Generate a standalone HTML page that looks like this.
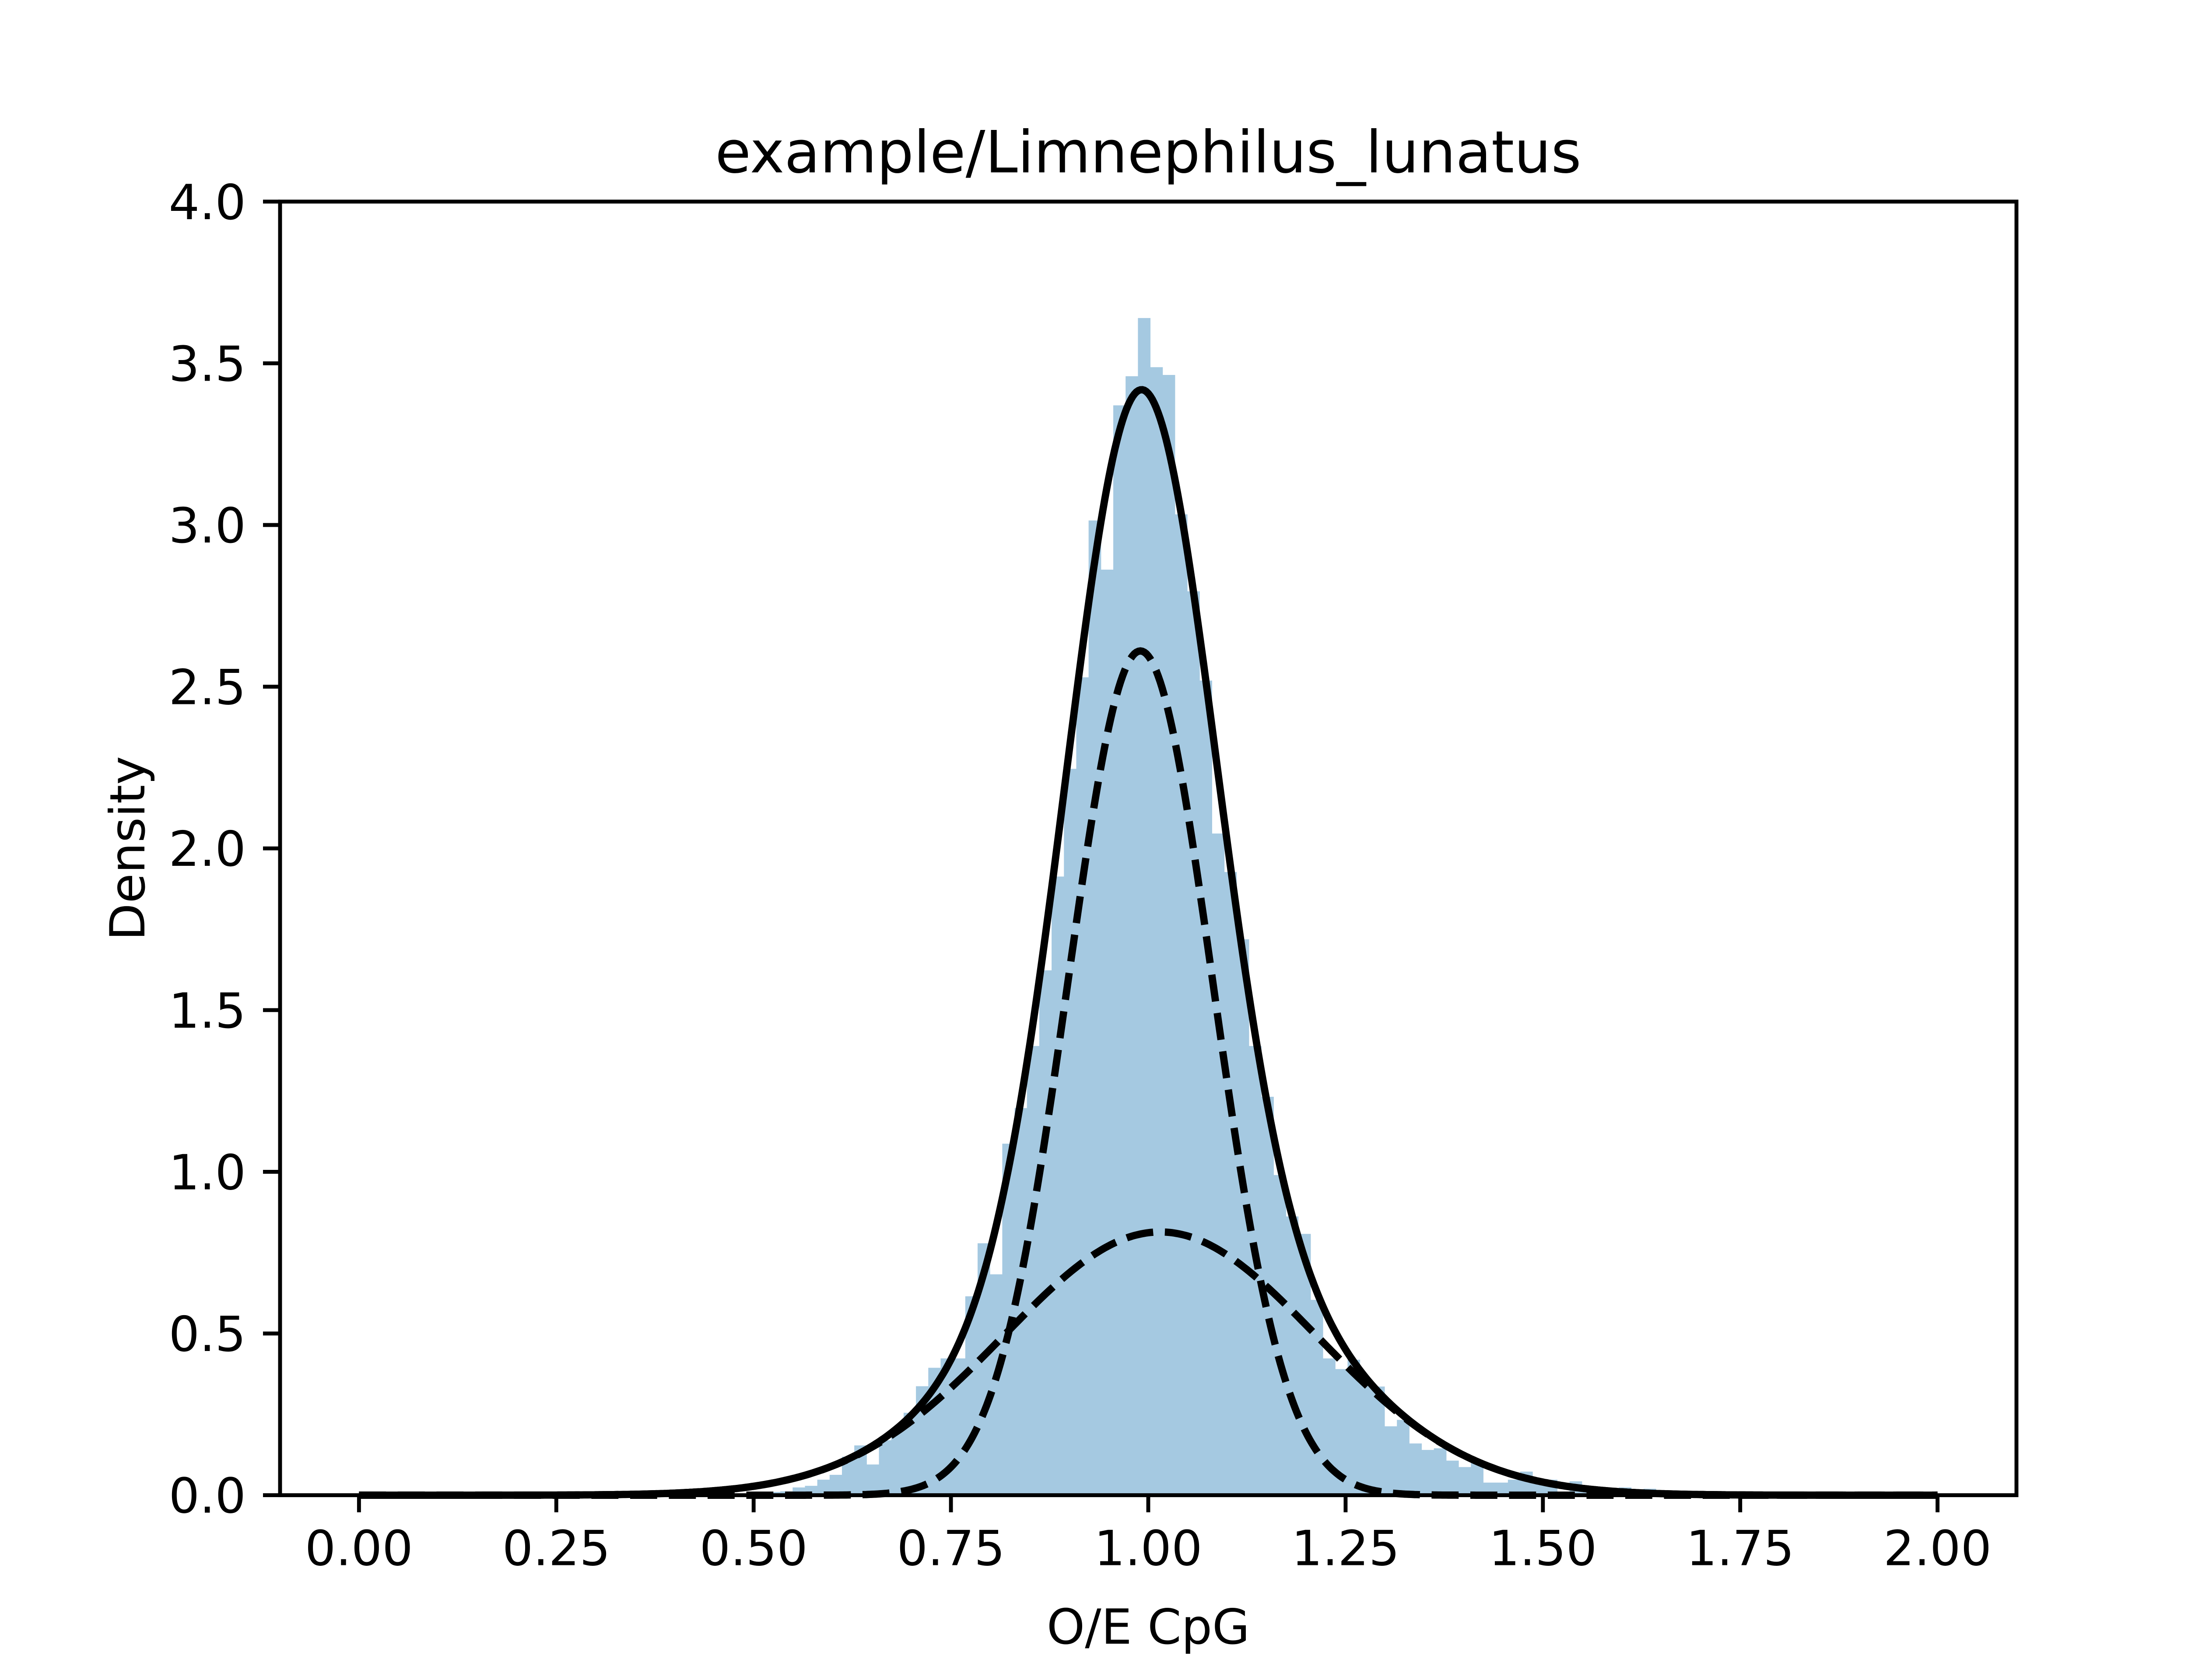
<!DOCTYPE html>
<html><head><meta charset="utf-8"><style>
html,body{margin:0;padding:0;background:#fff;}
svg{display:block;}
text{font-family:"DejaVu Sans","Liberation Sans",sans-serif;fill:#000;}
</style></head><body>
<svg id="chart" width="5120" height="3840" viewBox="0 0 5120 3840" xmlns="http://www.w3.org/2000/svg">
<rect x="0" y="0" width="5120" height="3840" fill="#ffffff"/>
<g id="bars"></g>
<g id="curves"></g>
<g id="axes"></g>
<text x="2624" y="394" font-size="133" text-anchor="middle">example/Limnephilus_lunatus</text>
<text x="2624" y="3757" font-size="111" text-anchor="middle">O/E CpG</text>
<text x="0" y="0" font-size="111" text-anchor="middle" transform="translate(330,1939) rotate(-90)">Density</text>
</svg>
<script>
const binStart = 0.4869;
const binWidth = 0.015625;
const densities = [0.005,0.008,0.010,0.012,0.024,0.029,0.048,0.063,0.119,0.154,0.095,0.170,0.200,0.255,0.337,0.394,0.423,0.423,0.615,0.779,0.683,1.087,1.197,1.389,1.623,1.913,2.246,2.529,3.014,2.862,3.370,3.460,3.640,3.488,3.464,3.033,2.795,2.519,2.046,1.927,1.719,1.389,1.232,0.990,0.862,0.808,0.604,0.423,0.390,0.419,0.350,0.336,0.213,0.233,0.160,0.140,0.145,0.107,0.087,0.107,0.039,0.039,0.048,0.073,0.048,0.048,0.011,0.043,0.011,0.010,0.008,0.024,0.011,0.020];
const compMeans = [0.99, 1.015];
const compSigmas = [0.092, 0.198];
const compWeights = [0.602, 0.404];
const xTicks = [0,0.25,0.5,0.75,1.0,1.25,1.5,1.75,2.0];
const xTickLabels = ["0.00","0.25","0.50","0.75","1.00","1.25","1.50","1.75","2.00"];
const yTicks = [0,0.5,1,1.5,2,2.5,3,3.5,4];
const yTickLabels = ["0.0","0.5","1.0","1.5","2.0","2.5","3.0","3.5","4.0"];

const NS='http://www.w3.org/2000/svg';
const L=640,R=4608,T=460.8,B=3417.6;
const xmin=-0.1,xmax=2.1,ymin=0,ymax=4;
function sx(v){return L+(v-xmin)/(xmax-xmin)*(R-L);}
function sy(v){return B-(v-ymin)/(ymax-ymin)*(B-T);}
function mk(tag,attrs,parent){const e=document.createElementNS(NS,tag);for(const k in attrs)e.setAttribute(k,attrs[k]);parent.appendChild(e);return e;}

const bars=document.getElementById('bars');
densities.forEach((d,i)=>{
  const x0=sx(binStart+i*binWidth), x1=sx(binStart+(i+1)*binWidth);
  const r=mk('rect',{x:x0,y:sy(d),width:x1-x0+0.5,height:B-sy(d),fill:'#a5c9e1'},bars);
  
  
});

function gauss(x,m,s){return Math.exp(-0.5*((x-m)/s)**2)/(s*Math.sqrt(2*Math.PI));}
const curves=document.getElementById('curves');
function pathFor(fn){let p='';for(let i=0;i<=800;i++){const x=i*2/800;p+=(i?'L':'M')+sx(x).toFixed(1)+','+sy(fn(x)).toFixed(1);}return p;}
const lw=16.7;
for(let c=0;c<compMeans.length;c++){
  const pth=mk('path',{d:pathFor(x=>compWeights[c]*gauss(x,compMeans[c],compSigmas[c])),fill:'none',stroke:'#000','stroke-width':lw,'stroke-dasharray':(3.7*lw)+' '+(1.6*lw)},curves);
  
  
}
const tot=mk('path',{d:pathFor(x=>{let s=0;for(let c=0;c<compMeans.length;c++)s+=compWeights[c]*gauss(x,compMeans[c],compSigmas[c]);return s;}),fill:'none',stroke:'#000','stroke-width':lw},curves);



const axes=document.getElementById('axes');
const frame=mk('rect',{x:L,y:T,width:R-L,height:B-T,fill:'none',stroke:'#000','stroke-width':8.9},axes);


xTicks.forEach((v,i)=>{
  const t=mk('line',{x1:sx(v),x2:sx(v),y1:B,y2:B+39,stroke:'#000','stroke-width':8.9},axes);
  
  
  const lb=mk('text',{x:sx(v),y:B+78+82,'font-size':111,'text-anchor':'middle'},axes);
  lb.textContent=xTickLabels[i];
  
  
});
yTicks.forEach((v,i)=>{
  const t=mk('line',{x1:L-39,x2:L,y1:sy(v),y2:sy(v),stroke:'#000','stroke-width':8.9},axes);
  
  
  const lb=mk('text',{x:L-78,y:sy(v)+40,'font-size':111,'text-anchor':'end'},axes);
  lb.textContent=yTickLabels[i];
  
  
});
</script>
</body></html>
